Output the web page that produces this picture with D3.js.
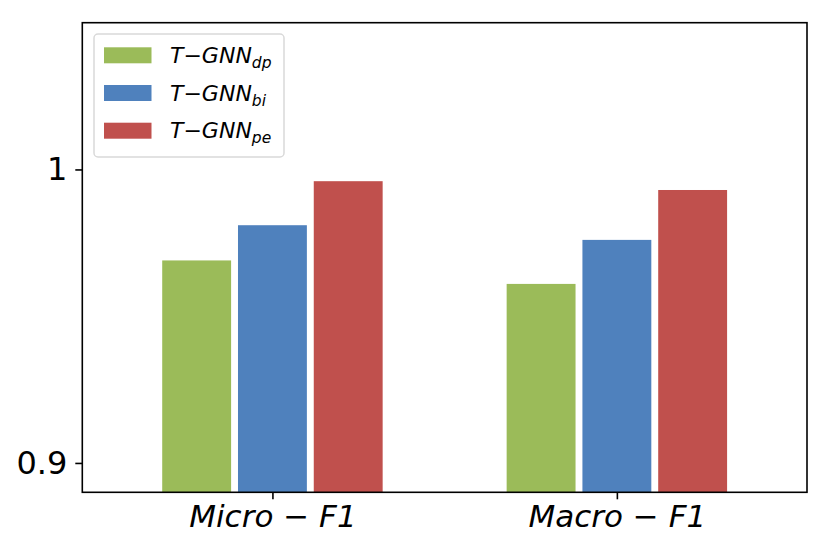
<!DOCTYPE html>
<html>
<head>
<meta charset="utf-8">
<script src="https://cdn.jsdelivr.net/npm/d3@7"></script>
<style>
  body { margin: 0; background: #fff; }
  text { font-family: "DejaVu Sans", sans-serif; }
</style>
</head>
<body>
<div id="chart"></div>
<script>
  // data
  const categories = ["Micro − F1", "Macro − F1"];
  const seriesNames = ["dp", "bi", "pe"];
  const seriesColors = ["#9bbb59", "#4f81bd", "#c0504d"];
  const dpValues = [0.969, 0.961];
  const biValues = [0.981, 0.976];
  const peValues = [0.996, 0.993];
  const yTicks = [0.9, 1];
  const yTickLabels = ["0.9", "1"];

  const seriesValues = [dpValues, biValues, peValues];

  var fullWidth = 830, fullHeight = 552;
  var margin = { top: 22.7, right: 23, bottom: 59.7, left: 82.3 },
    width = fullWidth - margin.left - margin.right,
    height = fullHeight - margin.top - margin.bottom;

  var svg = d3.select("#chart").append("svg")
    .attr("width", fullWidth)
    .attr("height", fullHeight)
    .append("g")
    .attr("transform", "translate(" + margin.left + "," + margin.top + ")");

  // group positions 0,1 like matplotlib
  var x = d3.scaleLinear()
    .domain([-0.552, 1.552])
    .range([0, width]);

  var y = d3.scaleLinear()
    .domain([0.89, 1.05])
    .range([height, 0]);

  const barW = 0.2, barStep = 0.22;

  var rows = [];
  seriesValues.forEach((vals, s) => {
    vals.forEach((v, c) => rows.push({ s: s, c: c, v: v }));
  });

  svg.selectAll("rect.bar")
    .data(rows)
    .enter().append("rect")
    .attr("class", "bar")
    .attr("fill", d => seriesColors[d.s])
    .attr("x", d => x(d.c + (d.s - 1) * barStep - barW / 2))
    .attr("width", d => x(barW) - x(0))
    .attr("y", d => y(d.v))
    .attr("height", d => height - y(d.v));

  // axes
  var yAxis = d3.axisLeft(y)
    .tickValues(yTicks)
    .tickFormat((d, i) => yTickLabels[i])
    .tickSize(7)
    .tickPadding(8);

  var gy = svg.append("g").call(yAxis);
  gy.select(".domain").remove();
  gy.selectAll("text")
    .attr("font-size", "32px")
    .attr("font-family", "DejaVu Sans")
    .attr("fill", "#000");
  gy.selectAll("line").attr("stroke", "#000").attr("stroke-width", 1.6);

  var xAxis = d3.axisBottom(x)
    .tickValues([0, 1])
    .tickFormat((d, i) => categories[i])
    .tickSize(7)
    .tickPadding(6);

  var gx = svg.append("g")
    .attr("transform", "translate(0," + height + ")")
    .call(xAxis);
  gx.select(".domain").remove();
  gx.selectAll("text")
    .attr("font-size", "31px")
    .attr("font-family", "DejaVu Sans")
    .attr("font-style", "italic")
    .attr("fill", "#000");
  gx.selectAll("line").attr("stroke", "#000").attr("stroke-width", 1.6);

  // frame
  svg.append("rect")
    .attr("width", width)
    .attr("height", height)
    .attr("fill", "none")
    .attr("stroke", "#000")
    .attr("stroke-width", 1.6);

  // legend
  var legend = svg.append("g")
    .attr("transform", "translate(" + (94 - margin.left) + "," + (34 - margin.top) + ")");

  legend.append("rect")
    .attr("width", 190)
    .attr("height", 123)
    .attr("rx", 4)
    .attr("fill", "#fff")
    .attr("fill-opacity", 0.8)
    .attr("stroke", "#d9d9d9")
    .attr("stroke-width", 1.5);

  var items = legend.selectAll("g.item")
    .data(seriesNames)
    .enter().append("g")
    .attr("class", "item")
    .attr("transform", (d, i) => "translate(0," + (i * 37.7) + ")");

  items.append("rect")
    .attr("x", 10)
    .attr("y", 13.3)
    .attr("width", 47.5)
    .attr("height", 16)
    .attr("fill", (d, i) => seriesColors[i]);

  var label = items.append("text")
    .attr("x", 76)
    .attr("y", 29)
    .attr("font-size", "22px")
    .attr("font-style", "italic")
    .attr("fill", "#000");
  label.append("tspan").text("T−GNN");
  label.append("tspan")
    .attr("font-size", "15.5px")
    .attr("dy", 5)
    .text(d => d);
</script>
</body>
</html>
